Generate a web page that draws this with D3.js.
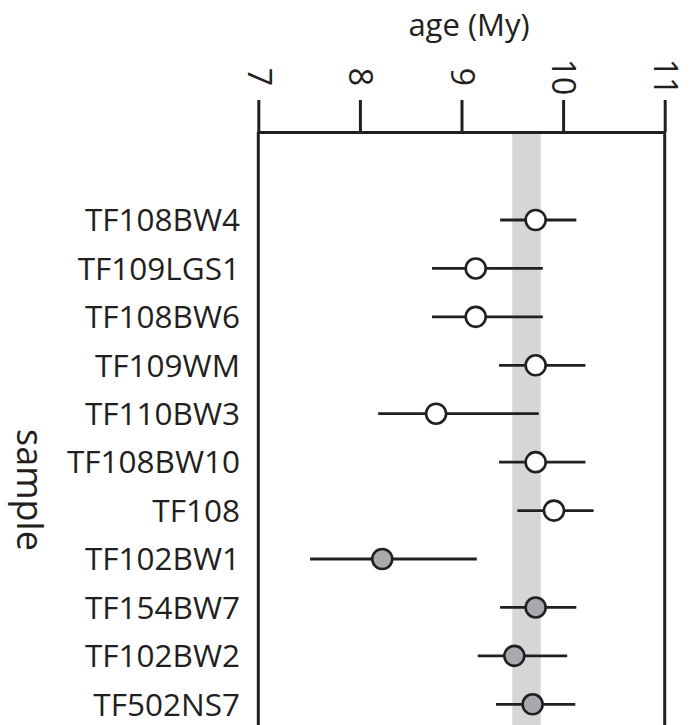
<!DOCTYPE html>
<html>
<head>
<meta charset="utf-8">
<script src="https://cdn.jsdelivr.net/npm/d3@7"></script>
<style>
  body { margin: 0; background: #fff; }
  text { font-family: "Open Sans", "Noto Sans", sans-serif; fill: #231f20; }
</style>
</head>
<body>
<svg id="chart"></svg>
<script>
// data
var samples = ["TF108BW4", "TF109LGS1", "TF108BW6", "TF109WM", "TF110BW3", "TF108BW10",
               "TF108", "TF102BW1", "TF154BW7", "TF102BW2", "TF502NS7"]
var ages   = [9.73, 9.14, 9.14, 9.73, 8.75, 9.73, 9.91, 8.22, 9.73, 9.52, 9.70]
var lows   = [9.38, 8.71, 8.71, 9.37, 8.18, 9.37, 9.55, 7.51, 9.38, 9.16, 9.34]
var highs  = [10.13, 9.80, 9.80, 10.22, 9.76, 10.22, 10.30, 9.15, 10.13, 10.04, 10.12]
var group  = ["open", "open", "open", "open", "open", "open", "open", "filled", "filled", "filled", "filled"]
var band   = [9.5, 9.78]
var xTicks = [7, 8, 9, 10, 11]

var width = 691
var height = 725
var ink = "#231f20"

var svg = d3.select("#chart")
	.attr("width", width)
	.attr("height", height)

var x = d3.scaleLinear().domain([7, 11]).range([258.3, 664.7])
var y = d3.scalePoint().domain(samples).range([220, 704.3])
var axisY = 132

//shaded band
svg.append("rect")
	.attr("x", x(band[0]))
	.attr("y", axisY)
	.attr("width", x(band[1]) - x(band[0]))
	.attr("height", height - axisY)
	.attr("fill", "#d5d6d8")

//frame sides
svg.append("g")
	.selectAll("line")
	.data(x.domain())
	.enter()
	.append("line")
	.attr("x1", d => x(d)).attr("x2", d => x(d))
	.attr("y1", axisY).attr("y2", height)
	.attr("stroke", ink)
	.attr("stroke-width", 3)

//top axis
var ax = svg.append("g")
	.attr("transform", "translate(0," + axisY + ")")
	.call(d3.axisTop(x).tickValues(xTicks).tickFormat(d3.format("d")).tickSize(32).tickSizeOuter(0))
ax.select(".domain").attr("stroke", ink).attr("stroke-width", 3)
ax.selectAll(".tick line").attr("stroke", ink).attr("stroke-width", 3)
ax.selectAll(".tick text")
	.attr("x", 0).attr("y", 0).attr("dy", "0.35em")
	.attr("text-anchor", "middle")
	.attr("transform", "translate(0,-55) rotate(90)")
	.attr("font-size", 32)
	.attr("font-family", null)
	.attr("fill", ink)

svg.append("text")
	.attr("x", 469).attr("y", 36)
	.attr("text-anchor", "middle")
	.attr("font-size", 31)
	.text("age (My)")

//sample labels
svg.append("g")
	.selectAll("text")
	.data(samples)
	.enter()
	.append("text")
	.attr("x", 240)
	.attr("y", d => y(d))
	.attr("dy", "0.36em")
	.attr("text-anchor", "end")
	.attr("font-size", 31.5)
	.text(d => d)

svg.append("text")
	.attr("transform", "translate(30,490) rotate(90)")
	.attr("dy", "0.35em")
	.attr("text-anchor", "middle")
	.attr("font-size", 36)
	.text("sample")

//error bars
svg.append("g")
	.selectAll("line")
	.data(samples)
	.enter()
	.append("line")
	.attr("x1", (d, i) => x(lows[i]))
	.attr("x2", (d, i) => x(highs[i]))
	.attr("y1", d => y(d)).attr("y2", d => y(d))
	.attr("stroke", ink)
	.attr("stroke-width", 2.8)

svg.append("g")
	.selectAll("circle")
	.data(samples)
	.enter()
	.append("circle")
	.attr("cx", (d, i) => x(ages[i]))
	.attr("cy", d => y(d))
	.attr("r", 10)
	.attr("fill", (d, i) => group[i] == "open" ? "#ffffff" : "#a7a9ac")
	.attr("stroke", ink)
	.attr("stroke-width", 2.6)
</script>
</body>
</html>
